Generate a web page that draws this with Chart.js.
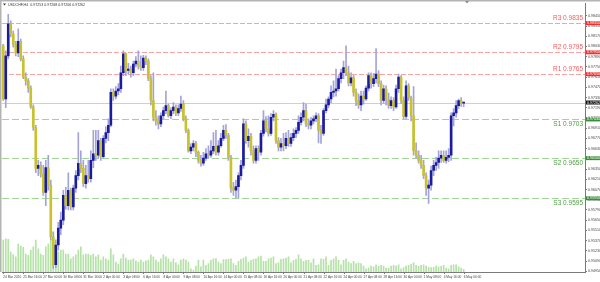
<!DOCTYPE html>
<html>
<head>
<meta charset="utf-8">
<script src="https://cdn.jsdelivr.net/npm/chart.js@4.4.1/dist/chart.umd.min.js"></script>
<style>
    html, body { margin: 0; padding: 0; background: #fff; }
    #wrap { width: 600px; height: 282px; }
</style>
</head>
<body>
<div id="wrap"><canvas id="priceChart" width="600" height="282"></canvas></div>
<script>
// USDCHF H4 candles, 24 Mar 2020 08:00 onwards
const opens = [
    0.9804,0.9731,0.9790,0.9834,0.9820,0.9806,0.9794,0.9810,0.9786,0.9761,
    0.9756,0.9746,0.9720,0.9692,0.9636,0.9640,0.9628,0.9603,0.9637,0.9613,
    0.9542,0.9504,0.9531,0.9554,0.9565,0.9599,0.9585,0.9606,0.9583,0.9609,
    0.9626,0.9643,0.9636,0.9615,0.9626,0.9622,0.9647,0.9656,0.9654,0.9674,
    0.9652,0.9677,0.9685,0.9695,0.9740,0.9735,0.9742,0.9745,0.9767,0.9793,
    0.9770,0.9772,0.9767,0.9779,0.9783,0.9776,0.9774,0.9787,0.9783,0.9759,
    0.9729,0.9706,0.9701,0.9697,0.9708,0.9715,0.9722,0.9708,0.9715,0.9720,
    0.9712,0.9718,0.9724,0.9704,0.9688,0.9660,0.9665,0.9670,0.9658,0.9647,
    0.9643,0.9650,0.9656,0.9654,0.9660,0.9666,0.9658,0.9667,0.9677,0.9688,
    0.9681,0.9651,0.9609,0.9606,0.9611,0.9626,0.9640,0.9697,0.9674,0.9680,
    0.9660,0.9647,0.9663,0.9658,0.9684,0.9701,0.9690,0.9684,0.9706,0.9710,
    0.9674,0.9665,0.9670,0.9667,0.9677,0.9670,0.9678,0.9684,0.9688,0.9699,
    0.9706,0.9715,0.9697,0.9695,0.9701,0.9704,0.9708,0.9688,0.9684,0.9715,
    0.9723,0.9731,0.9740,0.9742,0.9745,0.9759,0.9767,0.9774,0.9767,0.9753,
    0.9760,0.9740,0.9729,0.9723,0.9735,0.9731,0.9746,0.9763,0.9752,0.9759,
    0.9765,0.9752,0.9729,0.9745,0.9731,0.9722,0.9729,0.9720,0.9745,0.9761,
    0.9729,0.9707,0.9749,0.9733,0.9708,0.9660,0.9654,0.9647,0.9640,0.9626,
    0.9609,0.9613,0.9633,0.9640,0.9644,0.9650,0.9654,0.9647,0.9651,0.9654,
    0.9708,0.9712,0.9722,0.9729,0.97253
];
const highs = [
    0.9806,0.9797,0.9847,0.9838,0.9824,0.9810,0.9827,0.9813,0.9790,0.9767,
    0.9759,0.9749,0.9723,0.9695,0.9647,0.9645,0.9640,0.9647,0.9654,0.9620,
    0.9549,0.9538,0.9562,0.9576,0.9606,0.9610,0.9630,0.9609,0.9613,0.9633,
    0.9685,0.9660,0.9647,0.9640,0.9647,0.9660,0.9688,0.9688,0.9688,0.9677,
    0.9681,0.9693,0.9704,0.9745,0.9745,0.9748,0.9752,0.9776,0.9797,0.9794,
    0.9780,0.9776,0.9783,0.9789,0.9797,0.9790,0.9791,0.9790,0.9786,0.9763,
    0.9767,0.9715,0.9708,0.9712,0.9720,0.9742,0.9724,0.9719,0.9726,0.9723,
    0.9723,0.9735,0.9729,0.9708,0.9690,0.9670,0.9674,0.9673,0.9660,0.9654,
    0.9658,0.9663,0.9667,0.9674,0.9685,0.9688,0.9674,0.9684,0.9695,0.9696,
    0.9684,0.9654,0.9617,0.9620,0.9630,0.9647,0.9704,0.9701,0.9690,0.9684,
    0.9667,0.9667,0.9667,0.9688,0.9715,0.9707,0.9708,0.9711,0.9715,0.9712,
    0.9678,0.9677,0.9684,0.9685,0.9688,0.9684,0.9690,0.9692,0.9708,0.9712,
    0.9726,0.9724,0.9704,0.9706,0.9708,0.9712,0.9711,0.9695,0.9718,0.9731,
    0.9734,0.9749,0.9756,0.9772,0.9763,0.9772,0.9783,0.9804,0.9776,0.9767,
    0.9763,0.9745,0.9738,0.9742,0.9742,0.9749,0.9767,0.9767,0.9766,0.9800,
    0.9770,0.9756,0.9750,0.9749,0.9739,0.9734,0.9733,0.9750,0.9765,0.9763,
    0.9734,0.9756,0.9752,0.9735,0.9748,0.9671,0.9660,0.9654,0.9647,0.9630,
    0.9620,0.9639,0.9647,0.9651,0.9660,0.9660,0.9660,0.9660,0.9663,0.9712,
    0.9718,0.9729,0.9731,0.9733,0.97268
];
const lows = [
    0.9729,0.9719,0.9786,0.9816,0.9802,0.9790,0.9789,0.9783,0.9759,0.9750,
    0.9740,0.9718,0.9688,0.9630,0.9626,0.9624,0.9599,0.9585,0.9606,0.9538,
    0.9499,0.9500,0.9524,0.9545,0.9559,0.9580,0.9579,0.9579,0.9579,0.9603,
    0.9620,0.9630,0.9611,0.9609,0.9617,0.9617,0.9637,0.9647,0.9650,0.9647,
    0.9650,0.9671,0.9674,0.9693,0.9729,0.9731,0.9737,0.9740,0.9763,0.9763,
    0.9765,0.9761,0.9763,0.9775,0.9772,0.9770,0.9770,0.9778,0.9756,0.9723,
    0.9701,0.9695,0.9690,0.9693,0.9704,0.9711,0.9706,0.9704,0.9711,0.9708,
    0.9708,0.9714,0.9701,0.9685,0.9658,0.9656,0.9660,0.9652,0.9643,0.9639,
    0.9640,0.9647,0.9650,0.9651,0.9656,0.9654,0.9654,0.9665,0.9674,0.9677,
    0.9647,0.9603,0.9599,0.9596,0.9595,0.9620,0.9636,0.9670,0.9665,0.9654,
    0.9643,0.9643,0.9647,0.9654,0.9680,0.9686,0.9680,0.9681,0.9701,0.9670,
    0.9660,0.9660,0.9660,0.9663,0.9666,0.9666,0.9674,0.9678,0.9684,0.9695,
    0.9701,0.9693,0.9690,0.9690,0.9697,0.9700,0.9671,0.9670,0.9681,0.9712,
    0.9719,0.9726,0.9734,0.9735,0.9742,0.9753,0.9759,0.9763,0.9749,0.9749,
    0.9735,0.9722,0.9718,0.9715,0.9724,0.9729,0.9742,0.9746,0.9748,0.9753,
    0.9748,0.9723,0.9725,0.9723,0.9718,0.9718,0.9715,0.9718,0.9740,0.9725,
    0.9704,0.9704,0.9729,0.9701,0.9654,0.9650,0.9643,0.9636,0.9622,0.9599,
    0.9588,0.9606,0.9626,0.9633,0.9636,0.9644,0.9644,0.9643,0.9645,0.9647,
    0.9694,0.9706,0.9718,0.9721,0.97206
];
const closes = [
    0.9731,0.9790,0.9834,0.9820,0.9806,0.9794,0.9810,0.9786,0.9761,0.9756,
    0.9746,0.9720,0.9692,0.9636,0.9640,0.9628,0.9603,0.9637,0.9613,0.9542,
    0.9504,0.9531,0.9554,0.9565,0.9599,0.9585,0.9606,0.9583,0.9609,0.9626,
    0.9643,0.9636,0.9615,0.9626,0.9622,0.9647,0.9656,0.9654,0.9674,0.9652,
    0.9677,0.9685,0.9695,0.9740,0.9735,0.9742,0.9745,0.9767,0.9793,0.9770,
    0.9772,0.9767,0.9779,0.9783,0.9776,0.9774,0.9787,0.9783,0.9759,0.9729,
    0.9706,0.9701,0.9697,0.9708,0.9715,0.9722,0.9708,0.9715,0.9720,0.9712,
    0.9718,0.9724,0.9704,0.9688,0.9660,0.9665,0.9670,0.9658,0.9647,0.9643,
    0.9650,0.9656,0.9654,0.9660,0.9666,0.9658,0.9667,0.9677,0.9688,0.9681,
    0.9651,0.9609,0.9606,0.9611,0.9626,0.9640,0.9697,0.9674,0.9680,0.9660,
    0.9647,0.9663,0.9658,0.9684,0.9701,0.9690,0.9684,0.9706,0.9710,0.9674,
    0.9665,0.9670,0.9667,0.9677,0.9670,0.9678,0.9684,0.9688,0.9699,0.9706,
    0.9715,0.9697,0.9695,0.9701,0.9704,0.9708,0.9688,0.9684,0.9715,0.9723,
    0.9731,0.9740,0.9742,0.9745,0.9759,0.9767,0.9774,0.9767,0.9753,0.9760,
    0.9740,0.9729,0.9723,0.9735,0.9731,0.9746,0.9763,0.9752,0.9759,0.9765,
    0.9752,0.9729,0.9745,0.9731,0.9722,0.9729,0.9720,0.9745,0.9761,0.9729,
    0.9707,0.9749,0.9733,0.9708,0.9660,0.9654,0.9647,0.9640,0.9626,0.9609,
    0.9613,0.9633,0.9640,0.9644,0.9650,0.9654,0.9647,0.9651,0.9654,0.9708,
    0.9712,0.9722,0.9729,0.9725,0.97262
];
// tick volume
const volumes = [
    8000,8300,8200,5000,4300,3800,7000,6500,6200,4500,
    4200,5500,6300,8000,5800,4500,4200,6300,7000,8300,
    10000,7500,5000,5500,5500,4500,4500,3300,3800,4300,
    5500,6300,4300,4500,4500,4200,4500,3800,4300,3000,
    3800,3300,3000,5800,4300,2500,2000,3300,4500,3500,
    3000,3000,3300,2800,2500,3000,2500,2800,3000,4300,
    3800,3000,2500,3300,4300,3800,3300,2500,3300,2300,
    1800,3000,3300,3000,2500,800,500,1500,3000,1300,
    3000,1700,2100,2900,3300,3400,2500,2100,3100,3100,
    3200,3300,2100,1700,2700,3200,3500,3800,2500,2900,
    3200,3300,3800,4000,2700,2700,3300,3500,3800,2100,
    2300,3200,3300,3500,3800,2300,2900,3200,4300,3300,
    2700,2900,2900,2300,3300,1700,1800,3300,3200,3800,
    1700,2900,3300,3800,2900,1800,2900,3300,2500,2100,
    2700,2100,2300,2100,1500,800,1000,1500,1300,1800,
    1500,1700,1500,1000,1000,1500,1700,1500,1800,800,
    1100,1500,1700,2000,2300,1700,1400,1700,1800,1500,
    1200,1100,1200,1500,1300,1400,1700,1000,800,1700,
    1800,1800,1300,1000,700
];
// one time label every 8 bars
const timeLabels = [
    "24 Mar 2020", "25 Mar 16:00", "27 Mar 00:00", "30 Mar 08:00", "31 Mar 16:00",
    "2 Apr 00:00", "3 Apr 08:00", "6 Apr 16:00", "8 Apr 00:00", "9 Apr 08:00",
    "10 Apr 16:00", "14 Apr 00:00", "15 Apr 08:00", "16 Apr 16:00", "20 Apr 00:00",
    "21 Apr 08:00", "22 Apr 16:00", "24 Apr 00:00", "27 Apr 08:00", "28 Apr 16:00",
    "30 Apr 00:00", "1 May 08:00", "4 May 16:00", "6 May 00:00"
];
const priceTicks = [
    0.94950, 0.95090, 0.95230, 0.95370, 0.95510, 0.95650, 0.95790, 0.95930, 0.96070,
    0.96210, 0.96350, 0.96490, 0.96630, 0.96770, 0.96910, 0.97050, 0.97190, 0.97330,
    0.97470, 0.97610, 0.97750, 0.97890, 0.98030, 0.98170, 0.98310, 0.98450
];
// pivot levels
const levelNames = ["R3", "R2", "R1", "S1", "S2", "S3"];
const levelValues = [0.9835, 0.9795, 0.9765, 0.9703, 0.9650, 0.9595];
const lastPrice = 0.97262;
const headerText = "USDCHF,H4  0.97253 0.97268 0.97206 0.97262";

/** slots: candles plus empty space on the right */
const slotCount = 233;
const barsPerLabel = 8;
const slots = [];
for (let i = 0; i < slotCount; i++) {
    const k = i / barsPerLabel;
    slots.push(i % barsPerLabel === 0 && k < timeLabels.length ? timeLabels[k] : "");
}

const bullColor = "#1b1b9e";
const bearColor = "#c9c22c";
const wickColor = "#a3a3da";
const tinyFont = { family: "'Liberation Sans', Arial, sans-serif", size: 3.6 };
const timeFont = { family: "'Liberation Sans', Arial, sans-serif", size: 3.2 };

const isBull = closes.map((c, i) => c >= opens[i]);

/** ðŸ”¹ lines, labels and frame drawn on top of the scales */
const levelPlugin = {
    id: "levels",
    beforeDatasetsDraw(chart) {
        const { ctx, chartArea: a, scales: { y } } = chart;
        ctx.save();
        ctx.lineWidth = 1;
        // current price line
        const py = Math.round(y.getPixelForValue(lastPrice)) + 0.5;
        ctx.strokeStyle = "#cfcfcf";
        ctx.beginPath(); ctx.moveTo(a.left, py); ctx.lineTo(a.right, py); ctx.stroke();

        levelNames.forEach((name, i) => {
            const ly = Math.round(y.getPixelForValue(levelValues[i])) + 0.5;
            const res = name[0] === "R";
            ctx.strokeStyle = res ? "#f6a3a3" : "#a2d49a";
            ctx.setLineDash(res ? [5, 2] : [7, 3]);
            ctx.beginPath(); ctx.moveTo(a.left, ly); ctx.lineTo(a.right, ly); ctx.stroke();
        });
        ctx.restore();
    },
    afterDraw(chart) {
        const { ctx, chartArea: a, scales: { x, y } } = chart;
        ctx.save();

        // small marks under the time labels
        ctx.strokeStyle = "#7a7a7a";
        ctx.lineWidth = 1;
        timeLabels.forEach((t, k) => {
            const tx = Math.round(x.getPixelForValue(k * barsPerLabel)) + 0.5;
            ctx.beginPath(); ctx.moveTo(tx, a.bottom); ctx.lineTo(tx, a.bottom + 2); ctx.stroke();
        });

        // level captions and axis boxes
        levelNames.forEach((name, i) => {
            const ly = y.getPixelForValue(levelValues[i]);
            const res = name[0] === "R";
            ctx.font = "6.5px 'Liberation Sans', Arial, sans-serif";
            ctx.textAlign = "right";
            ctx.fillStyle = res ? "#f25c5c" : "#4e9e44";
            if (res) {
                ctx.textBaseline = "bottom";
                ctx.fillText(name + " " + levelValues[i].toFixed(4), a.right - 2, ly - 1.5);
            } else {
                ctx.textBaseline = "top";
                ctx.fillText(name + " " + levelValues[i].toFixed(4), a.right - 2, ly + 2);
            }
            ctx.fillStyle = res ? "#f03030" : "#3a8f3a";
            ctx.fillRect(a.right + 1, ly - 2, 14, 4);
            ctx.fillStyle = "#fff";
            ctx.font = "3.6px 'Liberation Sans', Arial, sans-serif";
            ctx.textAlign = "left";
            ctx.textBaseline = "middle";
            ctx.fillText(levelValues[i].toFixed(5), a.right + 2, ly);
        });

        // current price box
        const py = y.getPixelForValue(lastPrice);
        ctx.fillStyle = "#111";
        ctx.fillRect(a.right + 1, py - 2, 14, 4);
        ctx.fillStyle = "#fff";
        ctx.fillText(lastPrice.toFixed(5), a.right + 2, py);

        // window frame
        ctx.fillStyle = "#b4b4b4";
        ctx.fillRect(0, 0, 600, 1.5);
        ctx.fillRect(0, 0, 1.5, a.bottom);

        // header
        ctx.fillStyle = "#333";
        ctx.beginPath(); ctx.moveTo(3, 3.5); ctx.lineTo(6, 3.5); ctx.lineTo(4.5, 5.5); ctx.fill();
        ctx.font = "3.6px 'Liberation Sans', Arial, sans-serif";
        ctx.textAlign = "left";
        ctx.textBaseline = "middle";
        ctx.fillText(headerText, 8, 4.5);

        // chart shift marker
        ctx.fillStyle = "#888";
        ctx.beginPath(); ctx.moveTo(465, 1); ctx.lineTo(469, 1); ctx.lineTo(467, 3.5); ctx.fill();
        ctx.restore();
    }
};

const ctx = document.getElementById("priceChart").getContext("2d");
new Chart(ctx, {
    type: "bar",
    data: {
        labels: slots,
        datasets: [
            {
                label: "Volume",
                data: volumes,
                yAxisID: "vol",
                backgroundColor: "#b5e2a7",
                barThickness: 1,
                grouped: false,
                order: 3
            },
            {
                label: "Wick",
                data: highs.map((h, i) => [lows[i], h]),
                yAxisID: "y",
                backgroundColor: wickColor,
                barThickness: 1,
                grouped: false,
                order: 2
            },
            {
                label: "Body",
                data: closes.map((c, i) => [opens[i], c]),
                yAxisID: "y",
                backgroundColor: isBull.map(b => b ? bullColor : bearColor),
                barThickness: 2,
                minBarLength: 1,
                grouped: false,
                order: 1
            }
        ]
    },
    options: {
        responsive: false,
        animation: false,
        devicePixelRatio: 1,
        layout: { padding: { left: 2, top: 2, right: 0, bottom: 0 } },
        plugins: { legend: { display: false }, tooltip: { enabled: false } },
        scales: {
            x: {
                type: "category",
                offset: true,
                grid: { display: false, tickLength: 2 },
                border: { color: "#7a7a7a" },
                ticks: {
                    autoSkip: false,
                    maxRotation: 0,
                    align: "start",
                    padding: 1.5,
                    color: "#444",
                    font: timeFont
                },
                afterFit: s => { s.height = 10; }
            },
            y: {
                position: "right",
                min: 0.9494,
                max: 0.98623,
                grid: { drawOnChartArea: false, tickLength: 2, color: "#7a7a7a" },
                border: { color: "#7a7a7a" },
                ticks: {
                    padding: 1,
                    color: "#444",
                    font: tinyFont,
                    callback: v => v.toFixed(5)
                },
                afterBuildTicks: s => { s.ticks = priceTicks.map(v => ({ value: v })); },
                afterFit: s => { s.width = 15; }
            },
            vol: {
                display: false,
                min: 0,
                max: 67500
            }
        }
    },
    plugins: [levelPlugin]
});
</script>
</body>
</html>
